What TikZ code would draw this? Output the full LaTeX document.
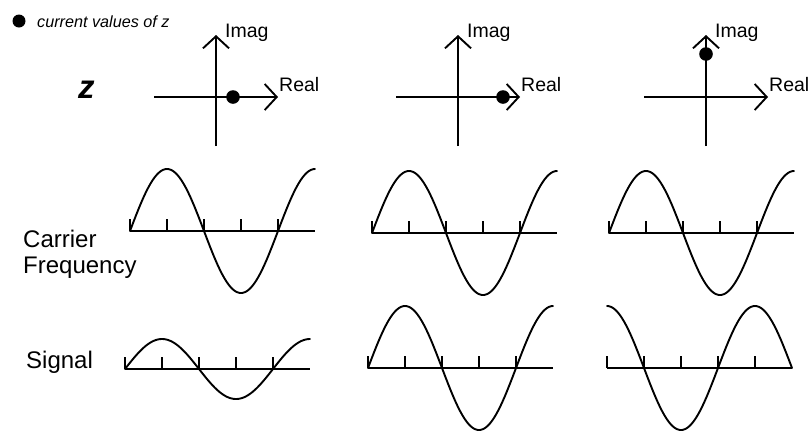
\documentclass[tikz,border=0pt]{standalone}
\usepackage{fontspec}
\setmainfont{Liberation Sans}
\usetikzlibrary{arrows.meta}
\begin{document}
\begin{tikzpicture}[x=1pt,y=-1pt,
  axisarrow/.style={line width=1.9pt,-{Straight Barb[length=12pt,width=26pt,line width=1.9pt]}},
  baseaxis/.style={line width=1.9pt},
  tickmark/.style={line width=1.6pt},
  wave/.style={line width=1.9pt,line join=round,line cap=round},
  zdot/.style={fill=black},
  axlabel/.style={inner sep=0pt,anchor=base west,font=\fontsize{19.5}{22}\selectfont},
  rowlabel/.style={inner sep=0pt,font=\fontsize{24}{25.5}\selectfont,align=left}
]
\useasboundingbox (0,0) rectangle (808,432);

% legend
\fill[zdot] (19,21) circle (6.5pt);
\node[inner sep=0pt,anchor=base west,font=\itshape\fontsize{16.2}{19}\selectfont] (legend) at (37,27) {current values of z};

% z label
\node[inner sep=0pt,anchor=base west,font=\bfseries\itshape\fontsize{33}{35}\selectfont] (zlabel) at (78,98) {z};

% complex planes
\foreach \cx/\dx/\dy/\nm in {216/17/0/a, 458/45/0/b, 706/0/-43/c} {
  \coordinate (\nm-o) at (\cx,97);
  \coordinate (\nm-l) at (\cx-62,97);
  \coordinate (\nm-r) at (\cx+62,97);
  \coordinate (\nm-b) at (\cx,146);
  \coordinate (\nm-t) at (\cx,35);
  \draw[axisarrow] (\nm-l) -- (\nm-r);
  \draw[axisarrow] (\nm-b) -- (\nm-t);
  \node[axlabel] (\nm-imag) at (\cx+9,37) {Imag};
  \node[axlabel] (\nm-real) at (\cx+63,91) {Real};
  \fill[zdot] (\cx+\dx,97+\dy) circle (6.8pt);
}

% row labels
\node[rowlabel,anchor=north west] (carrier) at (23,230) {Carrier\\Frequency};
\node[rowlabel,anchor=base west] (signal) at (26,368) {Signal};

% waves
\foreach \xo/\yo/\amp/\ph in {130/231/62/0, 372/233/62/0, 609/233/62/0, 125/369/30/0, 368/368/62/0, 607/368/62/90} {
  \draw[baseaxis] (\xo,\yo) -- (\xo+185,\yo);
  \foreach \k in {0,...,4} \draw[tickmark] (\xo+\k*37,\yo) -- (\xo+\k*37,\yo-12);
  \draw[wave] plot[domain=0:185,samples=150,smooth] ({\xo+\x},{\yo-\amp*sin(\x/148*360+\ph)});
}
\end{tikzpicture}
\end{document}
